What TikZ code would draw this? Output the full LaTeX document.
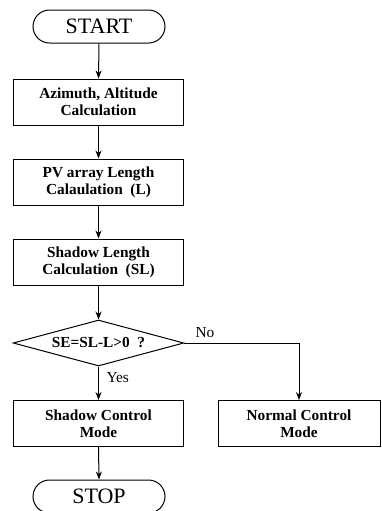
\documentclass[tikz,border=0pt]{standalone}
\usepackage{fontspec}
\setmainfont{Liberation Serif}
\usetikzlibrary{arrows.meta,shapes.geometric,shapes.misc}

\begin{document}
\begin{tikzpicture}[x=0.75pt,y=-0.75pt,line width=0.75pt,>={Stealth[length=6pt,width=4.5pt]},
  term/.style={rounded rectangle,draw,minimum width=99pt,minimum height=24.75pt,inner sep=0pt,font=\fontsize{16.5}{16.5}\selectfont},
  stepbox/.style={rectangle,draw,minimum width=128pt,minimum height=34.5pt,inner sep=0pt,align=center,font=\fontsize{11.5}{12.5}\selectfont\bfseries},
  check/.style={diamond,draw,aspect=3.72,minimum width=128pt,minimum height=34.5pt,inner sep=0pt,font=\fontsize{11.5}{12.5}\selectfont\bfseries},
  lbl/.style={font=\fontsize{11.5}{12}\selectfont,inner sep=0pt}]
\useasboundingbox (0,0) rectangle (382,511);
% ---- main column ----
\node[term] (start) at (99,26.5) {START};
\node[stepbox] (azim) at (98.5,102) {Azimuth, Altitude\\Calculation};
\node[stepbox] (pvlen) at (98.5,182) {PV array Length\\Calaulation~~(L)};
\node[stepbox] (shlen) at (98.5,262) {Shadow Length\\Calculation~~(SL)};
\node[check] (test) at (98.5,343) {SE=SL-L>0~~?};
\node[stepbox] (shmode) at (98.5,423.5) {Shadow Control\\Mode};
\node[term] (stop) at (99,496.5) {STOP};
% ---- right branch ----
\node[stepbox,minimum width=121.5pt] (nomode) at (299,423.5) {Normal Control\\Mode};
% ---- connectors ----
\foreach \a/\b in {start/azim,azim/pvlen,pvlen/shlen,shlen/test,test/shmode,shmode/stop}{
  \draw[->] (\a.south) -- (\b.north);
}
\draw[->] (test.east) -| (nomode.north);
\node[lbl,anchor=south west] at (195,338) {No};
\node[lbl,anchor=west] at (106,378) {Yes};
\end{tikzpicture}
\end{document}
